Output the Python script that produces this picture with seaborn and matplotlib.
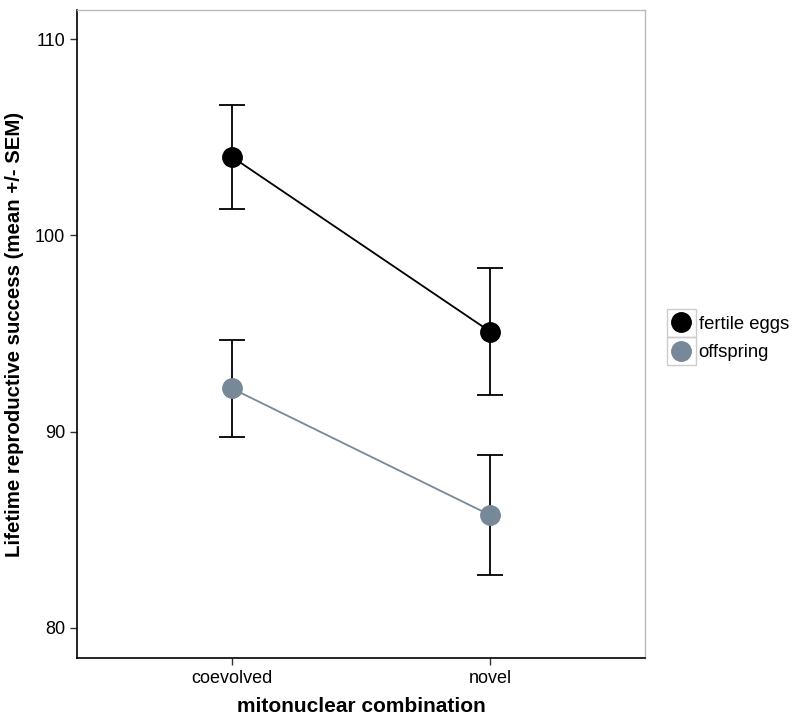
import pandas as pd
import matplotlib.pyplot as plt
import seaborn as sns
from matplotlib.lines import Line2D
from matplotlib.patches import Rectangle

combination = ['coevolved', 'novel']
fertile_eggs = [104.0, 95.1]
fertile_eggs_sem = [2.65, 3.24]
offspring = [92.2, 85.75]
offspring_sem = [2.47, 3.04]
groups = ['fertile eggs', 'offspring']
colors = ['black', '#778899']

df = pd.DataFrame({
    'combination': combination * 2,
    'value': fertile_eggs + offspring,
    'sem': fertile_eggs_sem + offspring_sem,
    'group': [groups[0]] * 2 + [groups[1]] * 2,
})

sns.set_style('white')
plt.rcParams['font.family'] = ['Liberation Sans', 'DejaVu Sans']
plt.rcParams['text.color'] = 'black'
plt.rcParams['axes.labelcolor'] = 'black'

fig = plt.figure(figsize=(8, 7.17), dpi=100)
ax = fig.add_axes([0.09625, 0.0823, 0.71, 0.9037])

# error bars first so points sit on top
for i, row in df.iterrows():
    xpos = combination.index(row['combination'])
    ax.errorbar(xpos, row['value'], yerr=row['sem'], fmt='none',
                ecolor='black', elinewidth=1.3, capsize=9.5, capthick=1.3, zorder=1)

sns.pointplot(data=df, x='combination', y='value', hue='group',
              palette=colors, errorbar=None,
              markersize=14, linewidth=1.3, ax=ax, zorder=3, legend=False)

ax.set_xlim(-0.6, 1.6)
ax.set_ylim(78.47, 111.48)
ax.set_yticks([80, 90, 100, 110])
ax.set_xlabel('mitonuclear combination', fontsize=15, fontweight='bold', labelpad=7)
ax.set_ylabel('Lifetime reproductive success (mean +/- SEM)', fontsize=14.7,
              fontweight='bold', labelpad=8)
ax.tick_params(axis='both', labelsize=13, length=5, width=1, color='#333333',
               bottom=True, left=True, labelcolor='black')

for s in ['top', 'right']:
    ax.spines[s].set_color('#bbbbbb')
    ax.spines[s].set_linewidth(1)
for s in ['left', 'bottom']:
    ax.spines[s].set_color('black')
    ax.spines[s].set_linewidth(1.2)

handles = [Line2D([], [], marker='o', linestyle='none', color=c, markersize=14)
           for c in colors]
fig.legend(handles, groups, loc='center left', bbox_to_anchor=(0.826, 0.528),
           frameon=False, fontsize=13.3, handlelength=1.2, handletextpad=0.35,
           labelspacing=0.6, borderpad=0)

# grey key boxes as in the original legend
for k in range(2):
    top = 309 + 28 * k
    fig.add_artist(Rectangle((667 / 800, 1 - (top + 28) / 717), 29 / 800, 28 / 717,
                             transform=fig.transFigure, fill=False,
                             edgecolor='#cccccc', linewidth=1))

fig.savefig('out.png', dpi=100)
